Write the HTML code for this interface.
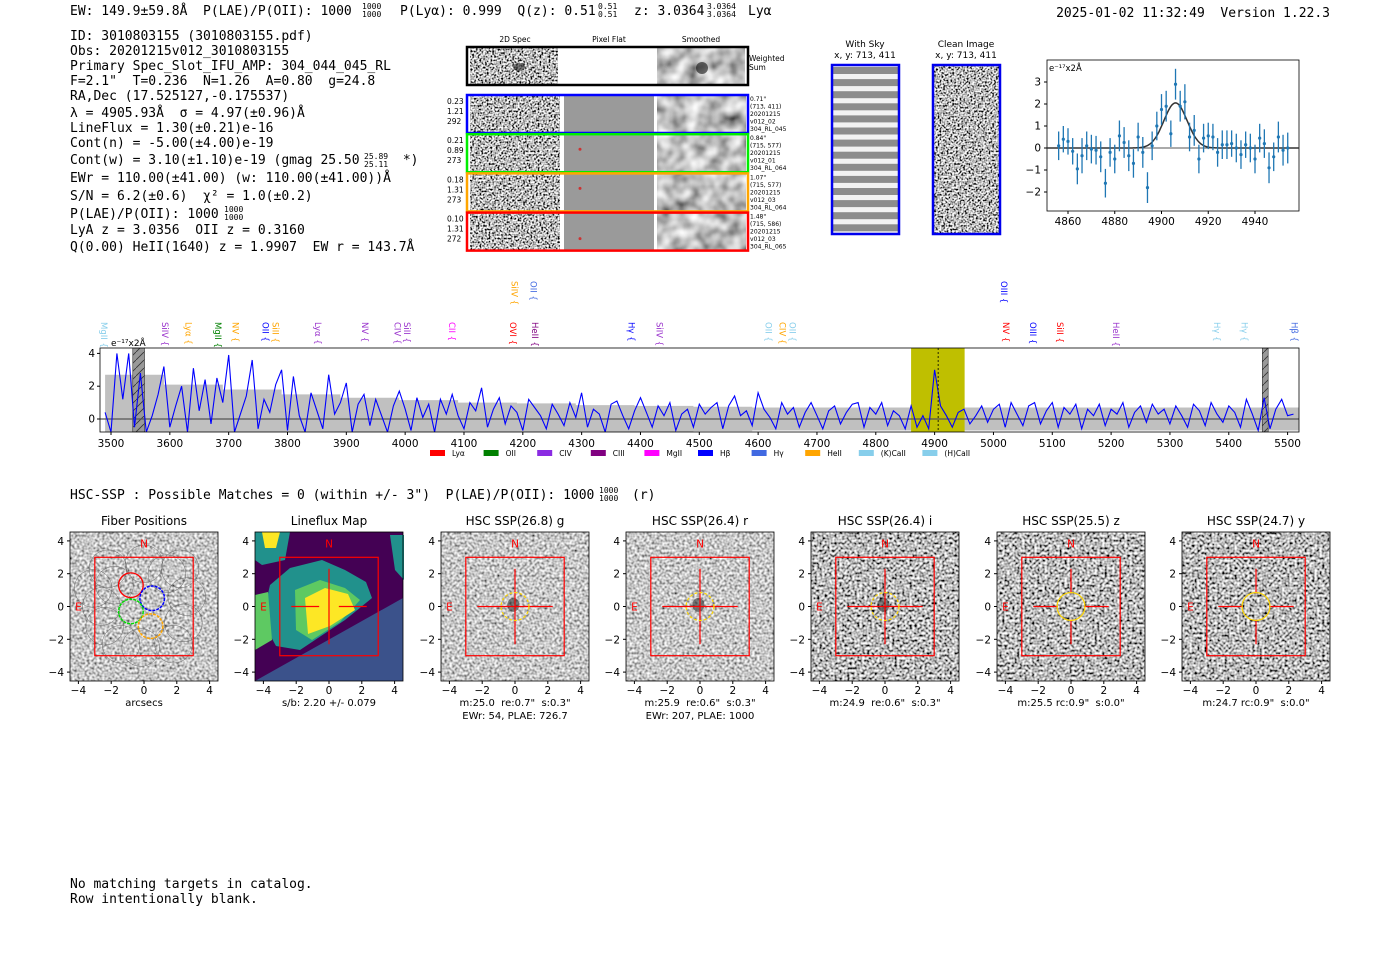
<!DOCTYPE html>
<html><head><meta charset="utf-8">
<style>
html,body{margin:0;padding:0;background:#fff;width:1400px;height:953px;overflow:hidden}
svg{display:block}
text{white-space:pre}
.mono{font-family:"DejaVu Sans Mono","Liberation Mono",monospace;font-size:13px}
.sans{font-family:"DejaVu Sans","Liberation Sans",sans-serif}
.tk{font-family:"DejaVu Sans","Liberation Sans",sans-serif;font-size:10.5px}
.sm{font-family:"DejaVu Sans","Liberation Sans",sans-serif;font-size:6px}
.sup{font-family:"DejaVu Sans Mono","Liberation Mono",monospace;font-size:8px}
</style></head>
<body>
<svg id="root" width="1400" height="953" viewBox="0 0 1400 953" xmlns="http://www.w3.org/2000/svg" xml:space="preserve">
<defs>
<filter id="nz1" x="0" y="0" width="100%" height="100%"><feTurbulence type="fractalNoise" baseFrequency="0.55" numOctaves="1" seed="2"/><feColorMatrix type="matrix" values="1 0 0 0 0 1 0 0 0 0 1 0 0 0 0 0 0 0 0 1"/><feComponentTransfer><feFuncR type="linear" slope="3.0" intercept="-1.0"/><feFuncG type="linear" slope="3.0" intercept="-1.0"/><feFuncB type="linear" slope="3.0" intercept="-1.0"/></feComponentTransfer></filter>
<filter id="nz2" x="0" y="0" width="100%" height="100%"><feTurbulence type="fractalNoise" baseFrequency="0.4" numOctaves="1" seed="7"/><feColorMatrix type="matrix" values="1 0 0 0 0 1 0 0 0 0 1 0 0 0 0 0 0 0 0 1"/><feComponentTransfer><feFuncR type="linear" slope="1.7" intercept="-0.27"/><feFuncG type="linear" slope="1.7" intercept="-0.27"/><feFuncB type="linear" slope="1.7" intercept="-0.27"/></feComponentTransfer></filter>
<filter id="nz3" x="0" y="0" width="100%" height="100%"><feTurbulence type="fractalNoise" baseFrequency="0.4" numOctaves="1" seed="11"/><feColorMatrix type="matrix" values="1 0 0 0 0 1 0 0 0 0 1 0 0 0 0 0 0 0 0 1"/><feComponentTransfer><feFuncR type="linear" slope="2.3" intercept="-0.65"/><feFuncG type="linear" slope="2.3" intercept="-0.65"/><feFuncB type="linear" slope="2.3" intercept="-0.65"/></feComponentTransfer></filter>
<filter id="sm1" x="0" y="0" width="100%" height="100%"><feTurbulence type="fractalNoise" baseFrequency="0.07" numOctaves="2" seed="5"/><feColorMatrix type="matrix" values="1 0 0 0 0 1 0 0 0 0 1 0 0 0 0 0 0 0 0 1"/><feComponentTransfer><feFuncR type="linear" slope="1.3" intercept="-0.12"/><feFuncG type="linear" slope="1.3" intercept="-0.12"/><feFuncB type="linear" slope="1.3" intercept="-0.12"/></feComponentTransfer></filter>
<pattern id="hatch" width="8" height="8" patternUnits="userSpaceOnUse"><rect width="8" height="8" fill="#999"/><path d="M0 8 L8 0" stroke="#333" stroke-width="0.8"/></pattern>
<clipPath id="specclip"><rect x="100" y="348" width="1199" height="84"/></clipPath>
<clipPath id="fitclip"><rect x="1047" y="60" width="252" height="151"/></clipPath>
</defs>

<g>
<text class="mono" x="70" y="15">EW: 149.9±59.8Å  P(LAE)/P(OII): 1000</text>
<text class="sup" x="362" y="9">1000</text><text class="sup" x="362" y="17">1000</text>
<text class="mono" x="400" y="15">P(Lyα): 0.999  Q(z): 0.51</text>
<text class="sup" x="598" y="9">0.51</text><text class="sup" x="598" y="17">0.51</text>
<text class="mono" x="634" y="15">z: 3.0364</text>
<text class="sup" x="707" y="9">3.0364</text><text class="sup" x="707" y="17">3.0364</text>
<text class="mono" x="748" y="15">Lyα</text>
<text class="mono" x="1330" y="17" text-anchor="end">2025-01-02 11:32:49  Version 1.22.3</text>
</g>

<g>
<text class="mono" x="70" y="40">ID: 3010803155 (3010803155.pdf)</text>
<text class="mono" x="70" y="55">Obs: 20201215v012_3010803155</text>
<text class="mono" x="70" y="70">Primary Spec_Slot_IFU_AMP: 304_044_045_RL</text>
<text class="mono" x="70" y="85">F=2.1"  T=0.236  N=1.26  A=0.80  g=24.8</text>
<text class="mono" x="70" y="100">RA,Dec (17.525127,-0.175537)</text>
<text class="mono" x="70" y="117">λ = 4905.93Å  σ = 4.97(±0.96)Å</text>
<text class="mono" x="70" y="132">LineFlux = 1.30(±0.21)e-16</text>
<text class="mono" x="70" y="147">Cont(n) = -5.00(±4.00)e-19</text>
<text class="mono" x="70" y="164">Cont(w) = 3.10(±1.10)e-19 (gmag 25.50</text>
<text class="sup" x="364" y="159">25.89</text><text class="sup" x="364" y="167">25.11</text>
<text class="mono" x="395" y="164"> *)</text>
<text class="mono" x="70" y="182">EWr = 110.00(±41.00) (w: 110.00(±41.00))Å</text>
<text class="mono" x="70" y="200">S/N = 6.2(±0.6)  χ² = 1.0(±0.2)</text>
<text class="mono" x="70" y="218">P(LAE)/P(OII): 1000</text>
<text class="sup" x="224" y="212">1000</text><text class="sup" x="224" y="220">1000</text>
<text class="mono" x="70" y="234">LyA z = 3.0356  OII z = 0.3160</text>
<text class="mono" x="70" y="251">Q(0.00) HeII(1640) z = 1.9907  EW r = 143.7Å</text>
</g>

<g>
<text class="sans" font-size="7.5" x="515" y="42" text-anchor="middle">2D Spec</text>
<text class="sans" font-size="7.5" x="609" y="42" text-anchor="middle">Pixel Flat</text>
<text class="sans" font-size="7.5" x="701" y="42" text-anchor="middle">Smoothed</text>
<rect x="470" y="47" width="88" height="37" fill="#888" filter="url(#nz1)"/>
<rect x="657" y="47" width="88" height="37" fill="#888" filter="url(#sm1)"/>
<ellipse cx="519" cy="67" rx="6" ry="4" fill="#222" opacity="0.6"/>
<ellipse cx="702" cy="68" rx="6" ry="6" fill="#111" opacity="0.6"/>
<rect x="467" y="47" width="281" height="38" fill="none" stroke="#000" stroke-width="2.5"/>
<text class="sans" font-size="7.5" x="749" y="61">Weighted</text><text class="sans" font-size="7.5" x="749" y="70">Sum</text>
<g id="rows"></g>
</g>

<g>
<text class="sans" font-size="9" x="865" y="47" text-anchor="middle">With Sky</text>
<text class="sans" font-size="9" x="865" y="58" text-anchor="middle">x, y: 713, 411</text>
<text class="sans" font-size="9" x="966" y="47" text-anchor="middle">Clean Image</text>
<text class="sans" font-size="9" x="966" y="58" text-anchor="middle">x, y: 713, 411</text>
<g id="skystripes"></g>
<rect x="832" y="65" width="67" height="169" fill="none" stroke="#0000ee" stroke-width="2.5"/>
<rect x="933" y="65" width="67" height="169" fill="#888" filter="url(#nz1)"/>
<rect x="933" y="65" width="67" height="169" fill="none" stroke="#0000ee" stroke-width="2.5"/>
</g>

<g id="fit"></g>
<g id="spec"></g>

<text class="mono" x="70" y="499">HSC-SSP : Possible Matches = 0 (within +/- 3")  P(LAE)/P(OII): 1000</text>
<text class="sup" x="599" y="493">1000</text><text class="sup" x="599" y="501">1000</text>
<text class="mono" x="632" y="499">(r)</text>

<g id="panels"></g>

<text class="mono" x="70" y="888">No matching targets in catalog.</text>
<text class="mono" x="70" y="903">Row intentionally blank.</text>
</svg>

<script>
const specStart = 3490;
const specStep = 10;
const specFlux = [
0.4,-0.8,4.0,1.2,4.0,-0.5,2.8,-0.8,0.2,1.5,
3.2,-0.5,0.8,2.0,-0.8,3.1,0.5,2.4,-0.3,2.5,
1.0,3.9,-0.8,0.3,1.4,3.6,-0.6,1.2,0.4,2.1,
3.0,-0.7,2.6,0.2,-0.8,1.6,0.5,-0.6,2.7,0.3,
1.0,2.2,-0.8,0.9,1.5,-0.4,1.2,0.2,-0.8,0.8,
1.7,0.6,-0.7,1.3,0.1,0.9,-0.8,1.2,0.3,1.5,
0.2,-0.6,1.0,0.5,1.9,-0.5,0.6,1.3,-0.3,0.8,
0.4,-0.7,1.2,0.7,0.2,-0.6,0.9,0.3,-0.4,1.0,
0.1,1.6,-0.5,0.6,0.3,-0.8,0.9,1.1,0.2,-0.6,
0.5,1.3,0.4,-0.5,0.8,0.2,1.0,-0.7,0.3,0.6,
-0.5,0.9,0.3,0.7,1.0,-0.6,0.8,1.4,0.2,0.5,
-0.4,1.6,0.6,0.1,-0.6,1.0,0.3,0.7,-0.5,0.4,
1.0,0.2,-0.6,0.5,0.8,-0.3,0.4,0.9,1.0,-0.5,
0.7,0.3,1.0,-0.4,0.5,0.2,-0.6,0.8,-0.5,0.2,
-0.6,3.0,0.8,0.2,-0.5,0.4,0.6,-0.3,0.2,0.8,
-0.2,0.6,0.9,-0.5,1.0,0.3,-0.4,0.8,1.0,-0.3,
0.5,1.0,-0.5,0.7,0.3,0.9,-0.6,0.6,0.2,0.9,
-0.4,0.6,0.3,1.0,-0.5,0.4,0.8,-0.2,0.9,0.3,
0.6,-0.3,0.8,0.2,-0.5,0.9,0.5,-0.4,1.0,0.3,
-0.2,0.8,0.4,-0.5,1.2,0.3,-0.7,1.3,-0.6,0.6,
1.2,0.2,0.3];
const errStep = 100;
const specErr = [2.7,2.1,1.8,1.5,1.3,1.15,1.0,0.95,0.85,0.8,0.75,0.7,0.7,0.7,0.7,0.7,0.7,0.7,0.7,0.7,0.7];
const specTicks = [3500,3600,3700,3800,3900,4000,4100,4200,4300,4400,4500,4600,4700,4800,4900,5000,5100,5200,5300,5400,5500];
const specYTicks = [0,2,4];
const lineNames = ["MgII","SiIV","Lyα","MgII","NV","OII","SiII","Lyα","NV","CIV","SiII","CII","OVI","SiIV","OII","HeII","Hγ","SiIV","OII","CIV","OII","OIII","NV","OIII","SiII","HeII","Hγ","Hγ","Hβ"];
const lineWaves = [3488,3592,3632,3682,3712,3763,3780,3852,3932,3987,4003,4080,4183,4186,4218,4221,4385,4432,4618,4641,4658,5018,5021,5067,5113,5208,5380,5427,5512];
const lineColors = ["#87ceeb","#9932cc","#ffa500","#008000","#ffa500","#0000ff","#ffa500","#9932cc","#9932cc","#9932cc","#9932cc","#ff00ff","#ff0000","#ffa500","#4169e1","#800080","#0000ff","#9932cc","#87ceeb","#ffa500","#87ceeb","#0000ff","#ff0000","#0000ff","#ff0000","#9932cc","#87ceeb","#87ceeb","#4169e1"];
const lineRaised = [0,0,0,0,0,0,0,0,0,0,0,0,0,1,1,0,0,0,0,0,0,1,0,0,0,0,0,0,0];
const legendNames = ["Lyα","OII","CIV","CIII","MgII","Hβ","Hγ","HeII","(K)CaII","(H)CaII"];
const legendColors = ["#ff0000","#008000","#8a2be2","#800080","#ff00ff","#0000ff","#4169e1","#ffa500","#87ceeb","#87ceeb"];
const fitWave = [4856,4858,4860,4862,4864,4866,4868,4870,4872,4874,4876,4878,4880,4882,4884,4886,4888,4890,4892,4894,4896,4898,4900,4902,4904,4906,4908,4910,4912,4914,4916,4918,4920,4922,4924,4926,4928,4930,4932,4934,4936,4938,4940,4942,4944,4946,4948,4950,4952,4954];
const fitFlux = [0.1,0.4,0.3,-0.15,-0.95,-0.35,0.1,-0.05,-0.1,-0.4,-1.6,-0.2,-0.5,0.55,0.25,-0.35,-0.7,0.5,-0.2,-1.8,0.1,1.0,1.75,1.9,0.65,2.9,1.9,2.1,0.5,0.8,-0.5,0.45,0.55,0.5,-0.2,0.15,0.15,0.2,0.0,-0.3,0.15,0.0,-0.5,0.45,0.2,-0.9,-0.4,0.5,-0.1,0.0];
const fitErr = [0.65,0.6,0.6,0.6,0.7,0.8,0.65,0.65,0.65,0.7,0.65,0.65,0.65,0.7,0.7,0.7,0.65,0.65,0.7,0.7,0.65,0.65,0.7,0.7,0.6,0.7,0.7,0.8,0.65,0.7,0.65,0.65,0.6,0.6,0.65,0.65,0.65,0.6,0.65,0.65,0.6,0.65,0.65,0.65,0.65,0.7,0.65,0.7,0.7,0.7];
const fitParams = [4906.0, 2.05, 4.97];
const fitXTicks = [4860,4880,4900,4920,4940];
const fitYTicks = [-2,-1,0,1,2,3];
const panelTitles = ["Fiber Positions","Lineflux Map","HSC SSP(26.8) g","HSC SSP(26.4) r","HSC SSP(26.4) i","HSC SSP(25.5) z","HSC SSP(24.7) y"];
const panelLabel1 = ["arcsecs","s/b: 2.20 +/- 0.079","m:25.0  re:0.7\"  s:0.3\"","m:25.9  re:0.6\"  s:0.3\"","m:24.9  re:0.6\"  s:0.3\"","m:25.5 rc:0.9\"  s:0.0\"","m:24.7 rc:0.9\"  s:0.0\""];
const panelLabel2 = ["","","EWr: 54, PLAE: 726.7","EWr: 207, PLAE: 1000","","",""];
const panelTicks = [-4,-2,0,2,4];
const rowLabels = [["0.23","1.21","292"],["0.21","0.89","273"],["0.18","1.31","273"],["0.10","1.31","272"]];
const rowInfo = [["0.71\"","(713, 411)","20201215","v012_02","304_RL_045"],["0.84\"","(715, 577)","20201215","v012_01","304_RL_064"],["1.07\"","(715, 577)","20201215","v012_03","304_RL_064"],["1.48\"","(715, 586)","20201215","v012_03","304_RL_065"]];
const rowColors = ["#0000ff","#00ee00","#ffa500","#ff0000"];

const NS = "http://www.w3.org/2000/svg";
function el(tag, parent, attrs){ const e=document.createElementNS(NS,tag); for(const k in attrs) e.setAttribute(k,attrs[k]); parent.appendChild(e); return e; }
function txt(parent, x, y, s, cls, extra){ const t=el("text",parent,Object.assign({x:x,y:y,class:cls},extra||{})); t.textContent=s; return t; }

const rowsG = document.getElementById("rows");
rowColors.forEach((c,i)=>{
  const y0 = 96 + i*39.2;
  el("rect",rowsG,{x:470,y:y0,width:90,height:36,fill:"#888",filter:"url(#nz1)"});
  el("rect",rowsG,{x:564,y:y0,width:90,height:36,fill:"#9a9a9a"});
  el("rect",rowsG,{x:657,y:y0,width:89,height:36,fill:"#888",filter:"url(#sm1)"});
  if(i>0){ el("circle",rowsG,{cx:580,cy:y0+(i==3?25:14),r:1.5,fill:"#c33"}); }
  const b = el("rect",rowsG,{x:467,y:y0-1,width:281,height:38,fill:"none",stroke:c,"stroke-width":2.5});
  
  
  rowLabels[i].forEach((s,j)=>txt(rowsG,447,y0+8+j*10,s,"sans",{"font-size":"7.5"}));
  rowInfo[i].forEach((s,j)=>txt(rowsG,750,y0+5+j*7.5,s,"sm"));
});

const sk = document.getElementById("skystripes");
el("rect",sk,{x:832,y:65,width:67,height:169,fill:"#f2f2f2"});
for(let k=0;k<14;k++){ el("rect",sk,{x:832,y:67+k*12.1,width:67,height:7,fill:"#8c8c8c"}); }

const fit = document.getElementById("fit");
const fx = w => 1068 + (w-4860)*2.3375;
const fy = v => 148 - v*22;
el("rect",fit,{x:1047,y:60,width:252,height:151,fill:"#fff",stroke:"#000","stroke-width":0.8});
const fg = el("g",fit,{"clip-path":"url(#fitclip)"});
el("line",fg,{x1:1047,x2:1299,y1:fy(0),y2:fy(0),stroke:"#555","stroke-width":1});
let gp="";
for(let w=4850; w<=4960; w+=0.5){ const v=fitParams[1]*Math.exp(-0.5*Math.pow((w-fitParams[0])/fitParams[2],2)); gp+=(gp?"L":"M")+fx(w).toFixed(1)+" "+fy(v).toFixed(1); }
const gl = el("path",fg,{d:gp,fill:"none",stroke:"#333","stroke-width":1.5});


fitWave.forEach((w,i)=>{
  el("line",fg,{x1:fx(w),x2:fx(w),y1:fy(fitFlux[i]-fitErr[i]),y2:fy(fitFlux[i]+fitErr[i]),stroke:"#1f77b4","stroke-width":1.3});
  const p = el("circle",fg,{cx:fx(w),cy:fy(fitFlux[i]),r:1.6,fill:"#1f77b4"});
  
  
});
fitXTicks.forEach(t=>{ el("line",fit,{x1:fx(t),x2:fx(t),y1:211,y2:214,stroke:"#000"}); txt(fit,fx(t),225,String(t),"tk",{"text-anchor":"middle","font-size":"9.5"}); });
fitYTicks.forEach(t=>{ el("line",fit,{x1:1044,x2:1047,y1:fy(t),y2:fy(t),stroke:"#000"}); txt(fit,1041,fy(t)+3.5,t<0?"−"+(-t):String(t),"tk",{"text-anchor":"end","font-size":"9.5"}); });
txt(fit,1049,71,"e⁻¹⁷x2Å","sans",{"font-size":"8.5"});

const sp = document.getElementById("spec");
const sx = w => 100 + (w-3481.3)*0.5883;
const sy = v => 419 - v*16.4;
el("rect",sp,{x:100,y:348,width:1199,height:84,fill:"#fff"});
const sg = el("g",sp,{"clip-path":"url(#specclip)"});
let bandTop="", bandBot=[];
specErr.forEach((e,i)=>{ const w=specStart+i*errStep; bandTop+=(bandTop?"L":"M")+sx(w).toFixed(1)+" "+sy(e).toFixed(1)+"L"+sx(w+errStep).toFixed(1)+" "+sy(e).toFixed(1); bandBot.unshift(sx(w+errStep).toFixed(1)+" "+sy(-e).toFixed(1)+"L"+sx(w).toFixed(1)+" "+sy(-e).toFixed(1)); });
const band = el("path",sg,{d:bandTop+"L"+bandBot.join("L")+"Z",fill:"#c0c0c0"});


const yb = el("rect",sg,{x:sx(4860),y:348,width:sx(4951)-sx(4860),height:84,fill:"#bfbf00"});


el("rect",sg,{x:sx(3537),y:348,width:sx(3557)-sx(3537),height:84,fill:"url(#hatch)",stroke:"#333","stroke-width":0.6});
el("rect",sg,{x:sx(5457),y:348,width:sx(5467)-sx(5457),height:84,fill:"url(#hatch)",stroke:"#333","stroke-width":0.6});
el("line",sg,{x1:100,x2:1299,y1:sy(0),y2:sy(0),stroke:"#555","stroke-width":1.2});
let sd="";
specFlux.forEach((v,i)=>{ sd+=(sd?"L":"M")+sx(specStart+i*specStep).toFixed(1)+" "+sy(v).toFixed(1); });
const sl = el("path",sg,{d:sd,fill:"none",stroke:"#0000ff","stroke-width":1.1});


el("line",sg,{x1:sx(4906),x2:sx(4906),y1:348,y2:432,stroke:"#000","stroke-width":0.8,"stroke-dasharray":"2,2"});
el("rect",sp,{x:100,y:348,width:1199,height:84,fill:"none",stroke:"#000","stroke-width":0.8});
specTicks.forEach(t=>{ el("line",sp,{x1:sx(t),x2:sx(t),y1:432,y2:435,stroke:"#000"}); txt(sp,sx(t),447,String(t),"tk",{"text-anchor":"middle","font-size":"9.5"}); });
specYTicks.forEach(t=>{ el("line",sp,{x1:97,x2:100,y1:sy(t),y2:sy(t),stroke:"#000"}); txt(sp,95,sy(t)+3.5,String(t),"tk",{"text-anchor":"end","font-size":"9.5"}); });
txt(sp,111,346,"e⁻¹⁷x2Å","sans",{"font-size":"9"});
lineNames.forEach((n,i)=>{
  const x=sx(lineWaves[i]); const y0 = lineRaised[i]? 281 : 322;
  const t = txt(sp,0,0,n+" {","sans",{"font-size":"8.5",fill:lineColors[i],transform:"translate("+(x-3)+","+y0+") rotate(90)"});
  
  
});
legendNames.forEach((n,i)=>{
  const x = 430 + i*53.6 + (i>=8?(i-8)*10:0);
  const r = el("rect",sp,{x:x,y:450,width:15,height:6,fill:legendColors[i]});
  
  
  txt(sp,x+22,456,n,"sans",{"font-size":"7.5"});
});

const pn = document.getElementById("panels");
const panelX = [70,255,441,626,811,997,1182];
const filtersP = ["url(#nz2)","","url(#nz2)","url(#nz2)","url(#nz3)","url(#nz3)","url(#nz3)"];
panelTitles.forEach((title,i)=>{
  const x0=panelX[i], y0=532, W=148, H=149;
  const cx=x0+W/2, cy=y0+H/2, s=16.4;
  const px=v=>cx+v*s, py=v=>cy-v*s;
  const g = el("g",pn,{});
  
  
  if(i===1){
    el("rect",g,{x:x0,y:y0,width:W,height:H,fill:"#440154"});
    el("polygon",g,{points:[x0,y0+H,x0+W,y0+66,x0+W,y0+H].join(","),fill:"#3b528b"});
    el("polygon",g,{points:"270,585 290,568 322,560 345,570 366,582 372,598 345,620 300,650 276,646 262,620",fill:"#21918c"});
    el("polygon",g,{points:"295,590 320,580 345,588 360,600 340,622 312,640 296,630",fill:"#5ec962"});
    el("polygon",g,{points:"305,598 325,588 348,594 355,610 330,626 308,634",fill:"#fde725"});
    el("polygon",g,{points:"255,532 290,532 285,560 262,565 255,560",fill:"#21918c"});
    el("polygon",g,{points:"262,532 280,532 276,548 265,548",fill:"#fde725"});
    el("polygon",g,{points:"390,535 404,535 404,580 395,570",fill:"#21918c"});
    el("polygon",g,{points:"255,595 268,592 272,640 255,650",fill:"#5ec962"});
  } else {
    el("rect",g,{x:x0,y:y0,width:W,height:H,fill:"#999",filter:filtersP[i]});
  }
  el("rect",g,{x:x0,y:y0,width:W,height:H,fill:"none",stroke:"#000","stroke-width":0.8});
  if(i===0){
    const hex=[[-2.2,2.3],[0,2.6],[2.2,2.3],[-3.1,1.1],[-2.6,0],[-2.4,-1.2],[-1.4,-2.3],[1.4,2.0],[2.6,0.6],[2.4,-1.0],[1.8,-2.3],[-0.2,-2.5],[-1.8,1.3]];
    hex.forEach(h=>el("circle",g,{cx:px(h[0]),cy:py(h[1]),r:1.15*s,fill:"none",stroke:"#666","stroke-width":0.5}));
    el("circle",g,{cx:px(-0.8),cy:py(1.3),r:0.75*s,fill:"none",stroke:"#ff0000","stroke-width":1.3});
    el("circle",g,{cx:px(0.5),cy:py(0.5),r:0.75*s,fill:"none",stroke:"#0000ff","stroke-width":1.5,"stroke-dasharray":"3,1"});
    el("circle",g,{cx:px(-0.8),cy:py(-0.3),r:0.75*s,fill:"none",stroke:"#00dd00","stroke-width":1.5,"stroke-dasharray":"3,1"});
    el("circle",g,{cx:px(0.4),cy:py(-1.2),r:0.75*s,fill:"none",stroke:"#ffa500","stroke-width":1.5,"stroke-dasharray":"3,1"});
  }
  if(i>=2 && i<=4){ el("ellipse",g,{cx:px(-0.1),cy:py(0.1),rx:6,ry:7,fill:"#222",opacity:0.55}); }
  el("rect",g,{x:px(-3),y:py(3),width:6*s,height:6*s,fill:"none",stroke:"#ff0000","stroke-width":1.2});
  if(i>=1){
    const gap = i===1?0.6:(i>=5?0.8:0);
    el("line",g,{x1:px(-2.3),x2:px(-gap),y1:cy,y2:cy,stroke:"#ff0000","stroke-width":1.2});
    el("line",g,{x1:px(gap),x2:px(2.3),y1:cy,y2:cy,stroke:"#ff0000","stroke-width":1.2});
    el("line",g,{x1:cx,x2:cx,y1:py(2.3),y2:py(i>=5?0.8:-2.3),stroke:"#ff0000","stroke-width":1.2});
    if(i>=5) el("line",g,{x1:cx,x2:cx,y1:py(-0.8),y2:py(-2.3),stroke:"#ff0000","stroke-width":1.2});
  }
  if(i>=2){ el("circle",g,{cx:cx,cy:cy,r:0.85*s,fill:"none",stroke:"#ffd700","stroke-width":1.2,"stroke-dasharray":i>=5?"none":"3,2"}); }
  txt(g,cx,py(3.6),"N","sans",{"font-size":"10.5",fill:"#ff0000","text-anchor":"middle"});
  txt(g,px(-4),cy+4,"E","sans",{"font-size":"10.5",fill:"#ff0000","text-anchor":"middle"});
  panelTicks.forEach(t=>{
    el("line",g,{x1:px(t),x2:px(t),y1:y0+H,y2:y0+H+3,stroke:"#000"});
    txt(g,px(t),y0+H+13,t<0?"−"+(-t):String(t),"tk",{"text-anchor":"middle"});
    el("line",g,{x1:x0-3,x2:x0,y1:py(t),y2:py(t),stroke:"#000"});
    txt(g,x0-6,py(t)+4,t<0?"−"+(-t):String(t),"tk",{"text-anchor":"end"});
  });
  txt(g,cx,y0-7,title,"sans",{"font-size":"12","text-anchor":"middle"});
  txt(g,cx,y0+H+25,panelLabel1[i],"sans",{"font-size":"10","text-anchor":"middle"});
  if(panelLabel2[i]) txt(g,cx,y0+H+38,panelLabel2[i],"sans",{"font-size":"10","text-anchor":"middle"});
});
</script>
</body></html>
